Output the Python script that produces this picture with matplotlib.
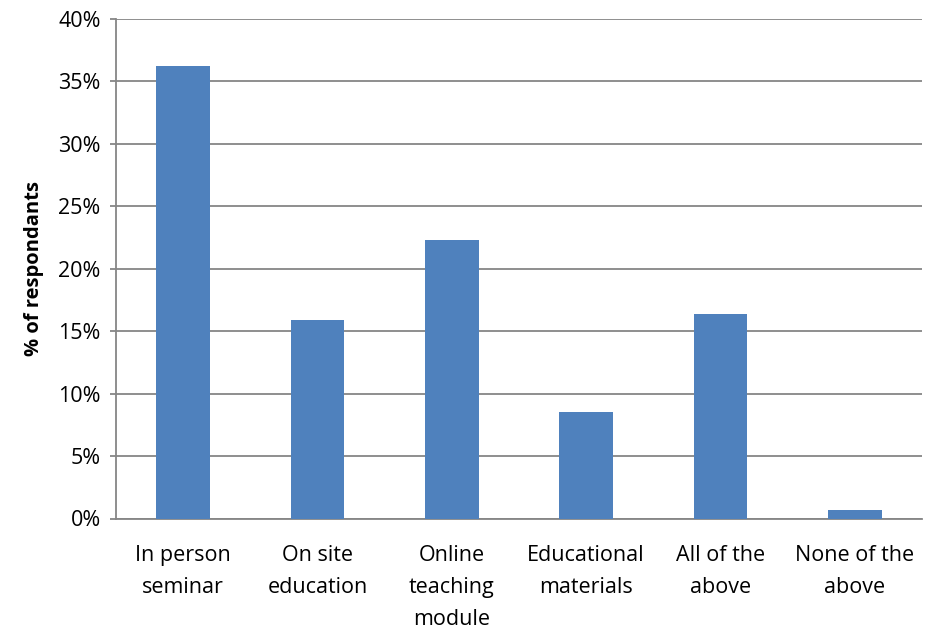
import matplotlib.pyplot as plt
from matplotlib.ticker import FuncFormatter, MultipleLocator

# Share of respondents by preferred education format
categories = ['In person\nseminar', 'On site\neducation', 'Online\nteaching\nmodule',
              'Educational\nmaterials', 'All of the\nabove', 'None of the\nabove']
percent = [36.2, 15.9, 22.3, 8.5, 16.4, 0.7]

plt.rcParams['font.family'] = ['Open Sans', 'DejaVu Sans']

fig = plt.figure(figsize=(9.26, 6.29), dpi=100)
ax = fig.add_axes([116 / 926, 1 - 518.5 / 629, 806 / 926, 499.5 / 629])

x = range(len(categories))
ax.bar(x, percent, width=0.4, color='#4f81bd', zorder=3)

ax.set_xlim(-0.5, len(categories) - 0.5)
ax.set_ylim(0, 40)
ax.yaxis.set_major_locator(MultipleLocator(5))
ax.yaxis.set_major_formatter(FuncFormatter(lambda v, _: f'{v:.0f}%'))
ax.grid(axis='y', color='#868686', linewidth=1.3, zorder=0)

ax.set_xticks(list(x))
ax.set_xticklabels(categories, fontsize=15.5, linespacing=1.7)
ax.tick_params(axis='x', length=0, pad=19)
ax.tick_params(axis='y', labelsize=15.5, length=4, width=1.3, color='#868686', pad=7)

for side in ['top', 'right']:
    ax.spines[side].set_visible(False)
for side in ['left', 'bottom']:
    ax.spines[side].set_color('#868686')
    ax.spines[side].set_linewidth(1.3)

ax.set_ylabel('% of respondants', fontsize=14.5, fontweight='bold', labelpad=10)

fig.savefig('out.png', dpi=100)
